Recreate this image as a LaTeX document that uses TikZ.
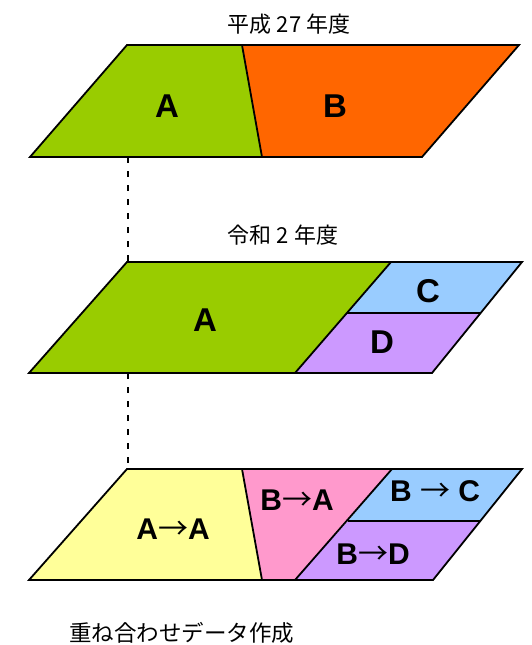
\documentclass[tikz,border=0pt]{standalone}
\usepackage{fontspec}
\setmainfont{Liberation Sans}
\newfontfamily\cjk{Noto Sans CJK JP}
\newcommand{\arr}{{\cjk\mdseries →}}
\definecolor{cgreen}{HTML}{99CC00}
\definecolor{corange}{HTML}{FF6600}
\definecolor{cblue}{HTML}{99CCFF}
\definecolor{cpurple}{HTML}{CC99FF}
\definecolor{cyellow}{HTML}{FFFF99}
\definecolor{cpink}{HTML}{FF99CC}
\tikzset{
  region/.style={draw=black, line width=1.8pt, line join=miter},
  lbl/.style={font=\fontsize{33}{34}\selectfont\bfseries, inner sep=0pt},
  lblsm/.style={font=\fontsize{30}{32}\selectfont\bfseries, inner sep=0pt},
  title/.style={font=\cjk\fontsize{22}{24}\selectfont, inner sep=0pt},
  conn/.style={line width=1.6pt, dash pattern=on 6pt off 8pt},
}
\begin{document}
\begin{tikzpicture}[x=1pt,y=-1pt]
\useasboundingbox (0,0) rectangle (532,645);
% connectors
\coordinate (t1) at (128,157);
\coordinate (m0) at (128,262);
\coordinate (m1) at (128,373);
\coordinate (b0) at (128,469);
\draw[conn] (t1) -- (m0);
\draw[conn] (m1) -- (b0);
% top layer
\fill[cgreen] (127,45) -- (242,45) -- (262,157) -- (30,157) -- cycle;
\fill[corange] (242,45) -- (519,45) -- (422,157) -- (262,157) -- cycle;
\draw[region] (127,45) -- (519,45) -- (422,157) -- (30,157) -- cycle;
\draw[region] (242,45) -- (262,157);
\node[lbl] (tA) at (167,106) {A};
\node[lbl] (tB) at (335,106) {B};
\node[title] (tt) at (289,24) {平成 27 年度};
% middle layer
\fill[cgreen] (127,262) -- (391,262) -- (295,373) -- (29,373) -- cycle;
\fill[cblue] (391,262) -- (522,262) -- (480,313) -- (347,313) -- cycle;
\fill[cpurple] (347,313) -- (480,313) -- (432,373) -- (295,373) -- cycle;
\draw[region] (127,262) -- (522,262) -- (432,373) -- (29,373) -- cycle;
\draw[region] (391,262) -- (295,373);
\draw[region] (347,313) -- (480,313);
\node[lbl] (mA) at (205,320) {A};
\node[lbl] (mC) at (428,291) {C};
\node[lbl] (mD) at (382,342) {D};
\node[title] (mt) at (283,235) {令和 2 年度};
% bottom layer
\fill[cyellow] (127,469) -- (242,469) -- (262,580) -- (29,580) -- cycle;
\fill[cpink] (242,469) -- (392,469) -- (295,580) -- (262,580) -- cycle;
\fill[cblue] (392,469) -- (522,469) -- (481,521) -- (348,521) -- cycle;
\fill[cpurple] (348,521) -- (481,521) -- (433,580) -- (295,580) -- cycle;
\draw[region] (127,469) -- (522,469) -- (433,580) -- (29,580) -- cycle;
\draw[region] (242,469) -- (262,580);
\draw[region] (392,469) -- (295,580);
\draw[region] (348,521) -- (481,521);
\node[lblsm] (bAA) at (173,529) {A\arr A};
\node[lblsm] (bBA) at (297,500) {B\arr A};
\node[lblsm] (bBC) at (435,491) {B \arr{} C};
\node[lblsm] (bBD) at (373,554) {B\arr D};
\node[title, font=\cjk\fontsize{22.5}{24}\selectfont, anchor=west] (bt) at (69,633) {重ね合わせデータ作成};
\end{tikzpicture}
\end{document}
